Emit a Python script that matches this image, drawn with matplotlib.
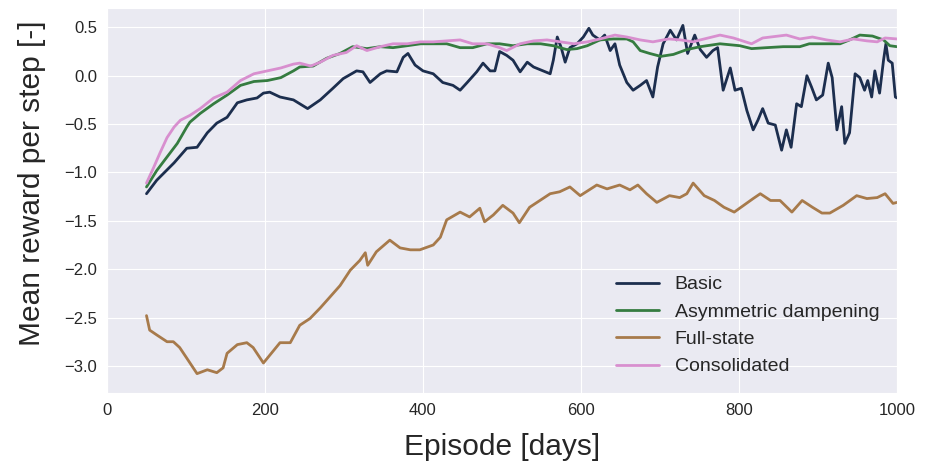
import matplotlib
matplotlib.use("Agg")
import matplotlib.pyplot as plt
import seaborn as sns

# Rolling mean reward per step for each agent variant
basic_x = [50, 63, 85, 101, 114, 127, 139, 152, 165, 177, 190, 198, 206, 219, 236,
           244, 254, 270, 286, 299, 316, 324, 333, 346, 354, 367, 375, 381, 390, 400,
           413, 425, 438, 447, 456, 468, 476, 485, 491, 497, 506, 514, 523, 532, 540,
           552, 561, 565, 570, 575, 580, 586, 595, 603, 610, 615, 624, 630, 637, 643,
           649, 658, 666, 675, 683, 691, 697, 704, 713, 721, 729, 735, 744, 751, 759,
           767, 773, 780, 789, 795, 803, 810, 818, 824, 830, 837, 846, 854, 860, 866,
           873, 879, 886, 892, 898, 906, 913, 918, 924, 930, 934, 940, 947, 953, 959,
           963, 968, 972, 978, 983, 986, 989, 994, 998, 1000]
basic_y = [-1.22, -1.08, -0.90, -0.75, -0.74, -0.59, -0.49, -0.43, -0.28, -0.25,
           -0.23, -0.18, -0.17, -0.22, -0.25, -0.29, -0.34, -0.25, -0.13, -0.03,
           0.05, 0.04, -0.07, 0.02, 0.05, 0.04, 0.19, 0.23, 0.11, 0.05,
           0.02, -0.07, -0.10, -0.15, -0.07, 0.04, 0.13, 0.05, 0.05, 0.25,
           0.21, 0.16, 0.04, 0.14, 0.09, 0.05, 0.02, 0.16, 0.40, 0.29,
           0.14, 0.29, 0.33, 0.40, 0.49, 0.42, 0.37, 0.42, 0.26, 0.33,
           0.11, -0.07, -0.15, -0.10, -0.05, -0.22, 0.09, 0.33, 0.47, 0.37,
           0.52, 0.23, 0.42, 0.27, 0.19, 0.26, 0.29, -0.15, 0.08, -0.15,
           -0.13, -0.36, -0.56, -0.46, -0.34, -0.49, -0.51, -0.77, -0.56, -0.74,
           -0.29, -0.32, 0.00, -0.12, -0.25, -0.20, 0.13, -0.02, -0.56, -0.32,
           -0.70, -0.59, 0.02, -0.02, -0.15, -0.05, -0.22, 0.05, -0.18, 0.16,
           0.33, 0.16, 0.13, -0.22, -0.23]

asym_x = [50, 63, 76, 89, 101, 105, 118, 135, 152, 169, 186, 203, 220, 236, 244,
          261, 278, 295, 311, 329, 346, 362, 380, 397, 413, 430, 447, 463, 481, 497,
          514, 532, 549, 565, 582, 595, 608, 624, 641, 658, 666, 675, 687, 701, 717,
          734, 751, 776, 801, 816, 835, 856, 877, 889, 911, 928, 940, 953, 969, 983,
          991, 1000]
asym_y = [-1.15, -0.98, -0.84, -0.70, -0.53, -0.48, -0.39, -0.29, -0.20, -0.10,
          -0.06, -0.05, -0.02, 0.05, 0.09, 0.10, 0.18, 0.23, 0.30, 0.28,
          0.30, 0.29, 0.31, 0.33, 0.33, 0.33, 0.29, 0.29, 0.33, 0.33,
          0.31, 0.33, 0.33, 0.31, 0.27, 0.28, 0.31, 0.37, 0.38, 0.38,
          0.35, 0.26, 0.23, 0.20, 0.22, 0.27, 0.30, 0.33, 0.31, 0.28,
          0.29, 0.30, 0.30, 0.33, 0.33, 0.33, 0.37, 0.42, 0.41, 0.37,
          0.31, 0.30]

full_x = [50, 54, 63, 76, 84, 92, 101, 114, 127, 139, 147, 152, 165, 177, 185,
          198, 206, 219, 232, 244, 257, 270, 282, 295, 308, 320, 327, 330, 341, 358,
          371, 384, 396, 413, 422, 430, 447, 459, 472, 478, 489, 501, 514, 522, 535,
          548, 561, 573, 586, 599, 620, 633, 649, 662, 672, 683, 696, 712, 725, 734,
          742, 756, 769, 781, 794, 806, 818, 827, 840, 852, 867, 880, 893, 905, 915,
          932, 949, 962, 975, 985, 995, 1000]
full_y = [-2.48, -2.63, -2.68, -2.75, -2.75, -2.81, -2.92, -3.08, -3.04, -3.07,
          -3.02, -2.87, -2.78, -2.76, -2.81, -2.97, -2.89, -2.76, -2.76, -2.58,
          -2.51, -2.40, -2.29, -2.17, -2.01, -1.91, -1.83, -1.96, -1.82, -1.70,
          -1.78, -1.80, -1.80, -1.75, -1.67, -1.49, -1.41, -1.46, -1.37, -1.51,
          -1.44, -1.34, -1.42, -1.52, -1.36, -1.29, -1.22, -1.20, -1.15, -1.24,
          -1.13, -1.17, -1.13, -1.18, -1.13, -1.22, -1.31, -1.24, -1.26, -1.22,
          -1.11, -1.24, -1.29, -1.36, -1.41, -1.34, -1.27, -1.22, -1.29, -1.29,
          -1.41, -1.29, -1.36, -1.42, -1.42, -1.34, -1.24, -1.27, -1.26, -1.22,
          -1.32, -1.31]

cons_x = [50, 59, 67, 76, 85, 93, 105, 118, 135, 152, 169, 186, 203, 220, 236,
          244, 258, 270, 286, 303, 316, 329, 346, 362, 380, 397, 413, 430, 447, 463,
          481, 497, 506, 523, 540, 557, 574, 591, 608, 624, 643, 658, 675, 691, 711,
          726, 742, 751, 776, 793, 816, 830, 860, 877, 893, 911, 928, 945, 962, 975,
          985, 1000]
cons_y = [-1.11, -0.95, -0.80, -0.64, -0.53, -0.46, -0.41, -0.34, -0.23, -0.17,
          -0.05, 0.02, 0.05, 0.08, 0.12, 0.13, 0.10, 0.14, 0.21, 0.24,
          0.31, 0.26, 0.30, 0.33, 0.33, 0.35, 0.35, 0.36, 0.37, 0.33,
          0.33, 0.29, 0.26, 0.33, 0.36, 0.37, 0.35, 0.33, 0.35, 0.38,
          0.42, 0.40, 0.37, 0.35, 0.38, 0.37, 0.35, 0.37, 0.42, 0.39,
          0.33, 0.39, 0.42, 0.38, 0.40, 0.37, 0.35, 0.38, 0.36, 0.35,
          0.39, 0.38]

labels = ["Basic", "Asymmetric dampening", "Full-state", "Consolidated"]
colors = ["#1c2e4e", "#357c40", "#a77a4b", "#d88fcf"]

sns.set_style("darkgrid")
plt.rcParams['font.family'] = ['Liberation Sans', 'DejaVu Sans']

fig = plt.figure(figsize=(9.32, 4.76), dpi=100)
ax = fig.add_axes([0.1148, 0.1744, 0.8476, 0.8088])

series = [(basic_x, basic_y), (asym_x, asym_y), (full_x, full_y), (cons_x, cons_y)]
for (xs, ys), lab, col in zip(series, labels, colors):
    ax.plot(xs, ys, color=col, linewidth=2, label=lab)

ax.set_xlim(0, 1000)
ax.set_ylim(-3.28, 0.70)
ax.set_xticks([0, 200, 400, 600, 800, 1000])
ax.set_yticks([-3.0, -2.5, -2.0, -1.5, -1.0, -0.5, 0.0, 0.5])
ax.tick_params(labelsize=12)
ax.set_xlabel("Episode [days]", fontsize=21.5, labelpad=11)
ax.set_ylabel("Mean reward per step [-]", fontsize=21.5)
ax.yaxis.set_label_coords(-0.077, 0.545)

ax.legend(loc="lower right", fontsize=14, frameon=False, handlelength=2.2,
          bbox_to_anchor=(1.0, 0.0))

fig.savefig("out.png", dpi=100)
